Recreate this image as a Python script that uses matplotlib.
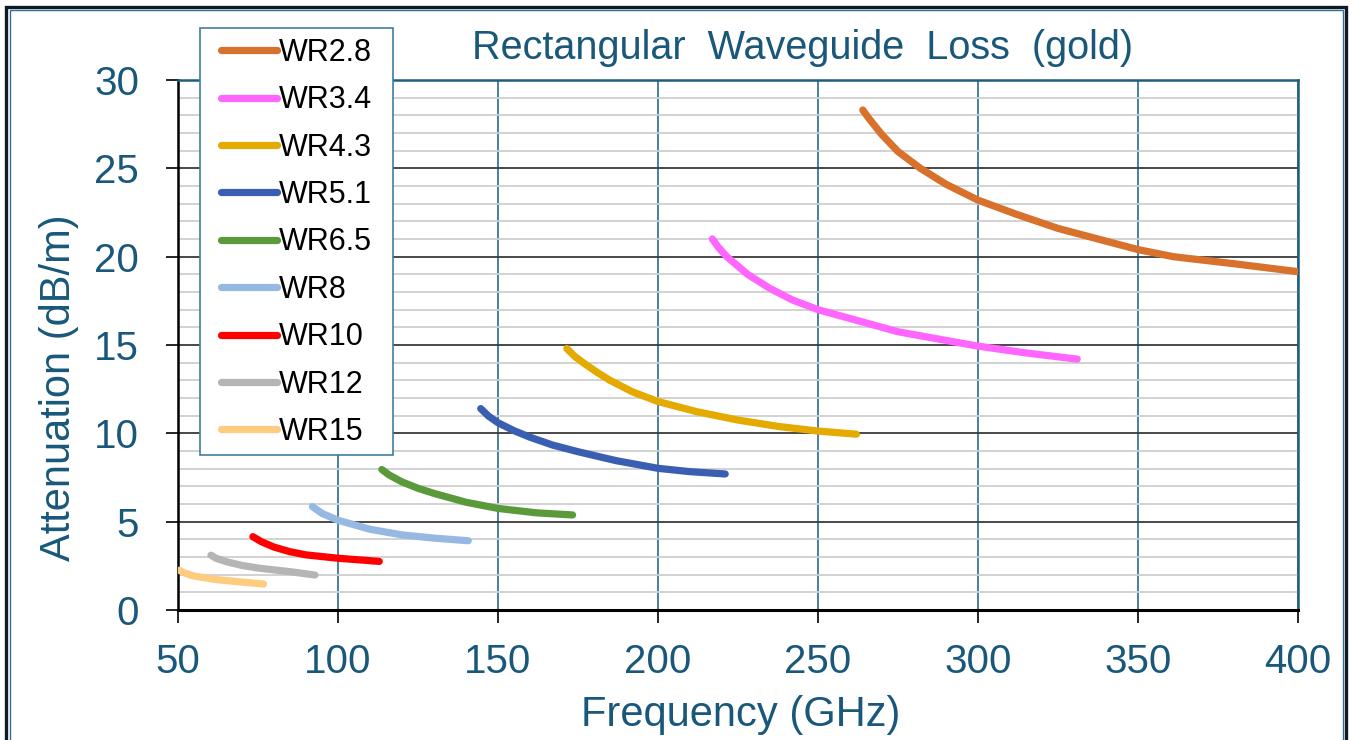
import matplotlib
matplotlib.use("Agg")
import matplotlib.pyplot as plt
from matplotlib.patches import Rectangle
from matplotlib.ticker import MultipleLocator

plt.rcParams['font.family'] = ['Liberation Sans', 'DejaVu Sans']

# waveguide bands: frequency (GHz) and attenuation (dB/m)
names = ['WR2.8', 'WR3.4', 'WR4.3', 'WR5.1', 'WR6.5', 'WR8', 'WR10', 'WR12', 'WR15']
colors = ['#D7712B', '#FF66FF', '#E4AA00', '#3A5EB2', '#5B9A3B', '#96B9E2',
          '#FF0000', '#B5B5B5', '#FFCB7F']

wr28_f = [264, 266, 270, 275, 282, 290, 300, 312, 325, 350, 361, 380, 400]
wr28_a = [28.3, 27.8, 26.9, 25.95, 25.0, 24.1, 23.2, 22.4, 21.6, 20.4, 20.0, 19.6, 19.15]
wr34_f = [217, 219, 221.5, 228, 235, 242, 250, 275, 299.5, 315, 331]
wr34_a = [21.0, 20.5, 20.0, 19.0, 18.2, 17.55, 17.0, 15.75, 14.95, 14.55, 14.2]
wr43_f = [171.5, 174, 177, 181, 185, 192, 200, 212, 225, 238, 250, 262]
wr43_a = [14.8, 14.35, 13.95, 13.45, 13.0, 12.35, 11.8, 11.23, 10.75, 10.38, 10.13, 9.95]
wr51_f = [144.6, 147, 150, 155, 160, 167, 175, 187, 200, 210, 221]
wr51_a = [11.4, 10.98, 10.6, 10.15, 9.78, 9.34, 8.96, 8.45, 8.02, 7.83, 7.7]
wr65_f = [113.7, 116, 120, 125, 130, 140, 150, 162, 173.3]
wr65_a = [7.95, 7.64, 7.25, 6.89, 6.6, 6.1, 5.75, 5.5, 5.38]
wr8_f = [92, 95, 100, 110, 120, 130, 140.7]
wr8_a = [5.85, 5.47, 5.08, 4.57, 4.25, 4.07, 3.92]
wr10_f = [73.4, 76, 80, 85, 90, 100, 112.9]
wr10_a = [4.15, 3.87, 3.56, 3.3, 3.12, 2.93, 2.75]
wr12_f = [60.3, 62, 65, 70, 75.6, 85, 92.8]
wr12_a = [3.1, 2.92, 2.74, 2.52, 2.36, 2.17, 1.98]
wr15_f = [50.4, 52, 55, 62, 70, 76.7]
wr15_a = [2.25, 2.1, 1.92, 1.72, 1.58, 1.47]

freqs = [wr28_f, wr34_f, wr43_f, wr51_f, wr65_f, wr8_f, wr10_f, wr12_f, wr15_f]
atten = [wr28_a, wr34_a, wr43_a, wr51_a, wr65_a, wr8_a, wr10_a, wr12_a, wr15_a]

teal = '#19587A'

fig = plt.figure(figsize=(13.54, 7.4), dpi=100)
ax = fig.add_axes([178/1354, 1 - 610/740, 1120/1354, 530/740])

for f, a, name, c in zip(freqs, atten, names, colors):
    ax.plot(f, a, color=c, lw=5.2, solid_capstyle='round',
            solid_joinstyle='round', label=name, zorder=3)

ax.set_xlim(50, 400)
ax.set_ylim(0, 30)
ax.xaxis.set_major_locator(MultipleLocator(50))
ax.yaxis.set_major_locator(MultipleLocator(5))
ax.yaxis.set_minor_locator(MultipleLocator(1))

ax.grid(True, which='minor', axis='y', color='#CFCFCF', lw=1.3)
ax.grid(True, which='major', axis='y', color='#3A3A3A', lw=1.3)
ax.grid(True, which='major', axis='x', color='#2E6B8A', lw=1.2)
ax.set_axisbelow(True)

ax.tick_params(which='major', direction='out', length=9, width=1.2, color='black',
               labelsize=29, labelcolor=teal)
ax.tick_params(axis='y', pad=19)
ax.tick_params(axis='x', pad=15)
ax.tick_params(which='minor', length=0)

ax.spines['left'].set_color('black')
ax.spines['left'].set_linewidth(1.8)
ax.spines['bottom'].set_color('black')
ax.spines['bottom'].set_linewidth(2.2)
ax.spines['top'].set_color('#1F5F80')
ax.spines['top'].set_linewidth(1.8)
ax.spines['right'].set_color('#1F5F80')
ax.spines['right'].set_linewidth(1.8)

ax.set_xlabel('Frequency (GHz)', fontsize=30, color=teal, va='center')
ax.xaxis.set_label_coords(0.502, -0.198)
ax.set_ylabel('Attenuation (dB/m)', fontsize=30, color=teal, va='center')
ax.yaxis.set_label_coords(-0.106, 0.42)

fig.text(803/1354, 1 - 48/740, 'Rectangular  Waveguide  Loss  (gold)',
         fontsize=28.5, color=teal, ha='center', va='center')

# legend box spans x 200-393 px, y 28-455 px; drawn as its own patch
ax.add_patch(Rectangle((200/1354, 1 - 455/740), 193/1354, 427/740,
                       transform=fig.transFigure, facecolor='white',
                       edgecolor='#3F7E9E', lw=1.2, clip_on=False, zorder=4))
leg = ax.legend(loc='upper left',
                bbox_to_anchor=(211/1354, 1 - 455/740, 182/1354, 427/740),
                bbox_transform=fig.transFigure, borderaxespad=0, mode='expand',
                fontsize=22, handlelength=1.85, handletextpad=0.05,
                labelspacing=0.57, borderpad=0.32, frameon=False)
leg.set_zorder(5)

# outer frame around the whole picture
fig.patches.append(Rectangle((6/1354, -0.02), 1340/1354, 1.02 - 6.5/740,
                             transform=fig.transFigure, fill=False,
                             edgecolor='#0E1B26', lw=2.4, zorder=10))
fig.patches.append(Rectangle((9.5/1354, -0.02), 1333/1354, 1.02 - 10/740,
                             transform=fig.transFigure, fill=False,
                             edgecolor='#2E7090', lw=1.0, zorder=10))

fig.savefig('out.png', dpi=100)
